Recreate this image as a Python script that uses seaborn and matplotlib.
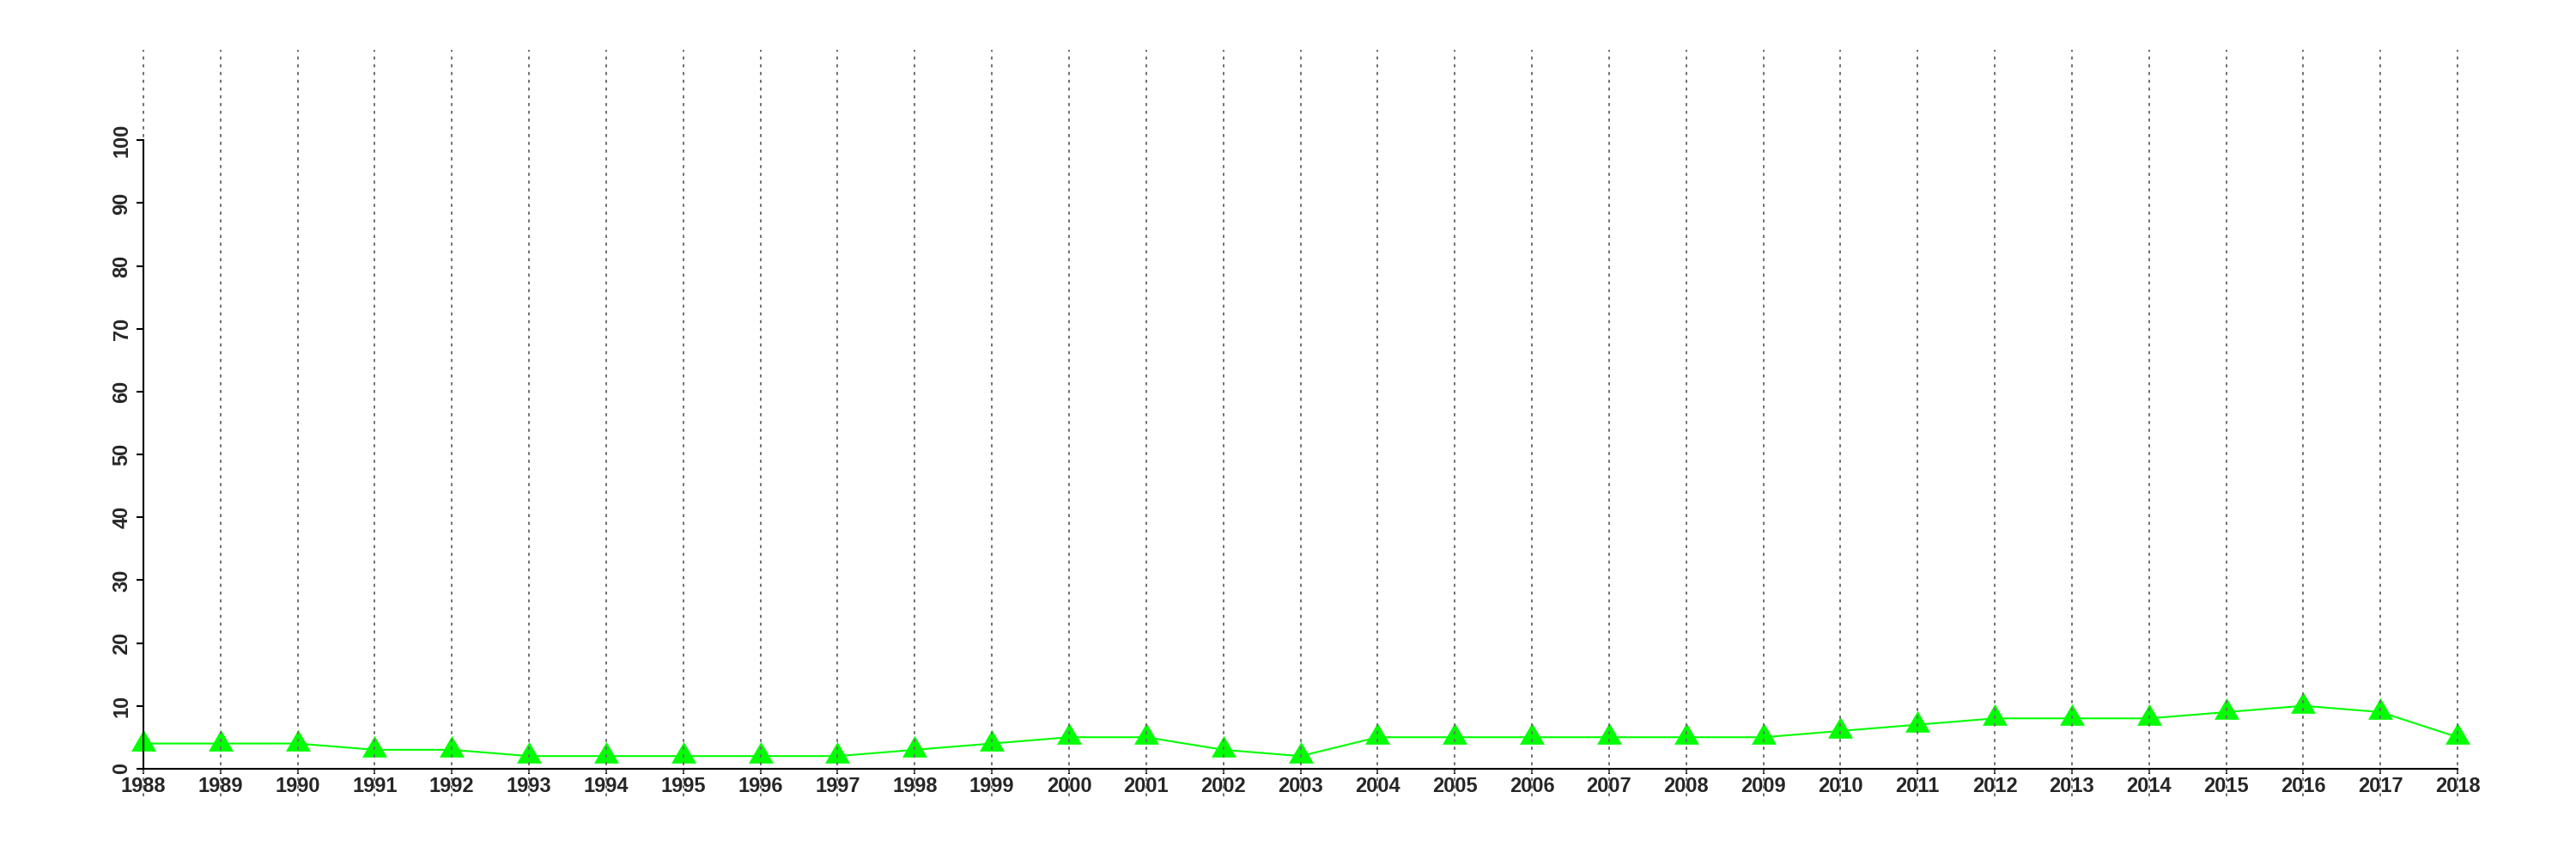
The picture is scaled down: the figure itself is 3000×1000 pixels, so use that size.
import matplotlib
matplotlib.use("Agg")
import matplotlib.pyplot as plt
import seaborn as sns
import pandas as pd

# values
years = list(range(1988, 2019))
counts = [4, 4, 4, 3, 3, 2, 2, 2, 2, 2, 3, 4, 5, 5, 3, 2,
          5, 5, 5, 5, 5, 5, 6, 7, 8, 8, 8, 9, 10, 9, 5]
y_ticks = list(range(0, 101, 10))

sns.set_style("white")
plt.rcParams['font.family'] = ['Liberation Sans', 'DejaVu Sans']
plt.rcParams['lines.scale_dashes'] = False

df = pd.DataFrame({"year": years, "count": counts})

fig = plt.figure(figsize=(30, 10), dpi=100)
ax = fig.add_axes([59 / 3000, 0.073, (2970 - 59) / 3000, 0.869])

# equilateral triangle like R's pch=17, centred on its centroid
tri = [(0, 0.577), (-0.5, -0.289), (0.5, -0.289)]
sns.lineplot(data=df, x="year", y="count", ax=ax, color="#00ff00",
             linewidth=1.5, marker=tri, markersize=24,
             markeredgewidth=0, markerfacecolor="#00ff00")

for yr in years:
    ax.axvline(yr, color="#707070", linewidth=1.4,
               linestyle=(0, (2.6, 3.9)), zorder=5)

ax.set_xlim(1986.8, 2019.2)
ax.set_ylim(-4.4, 114.4)

for side in ["top", "right"]:
    ax.spines[side].set_visible(False)
ax.spines["left"].set_position(("data", 1988))
ax.spines["bottom"].set_position(("data", 0))
ax.spines["left"].set_bounds(0, 100)
ax.spines["bottom"].set_bounds(1988, 2018)
for side in ["left", "bottom"]:
    ax.spines[side].set_linewidth(1.5)
    ax.spines[side].set_color("black")
    ax.spines[side].set_zorder(6)

ax.set_xticks(years)
ax.set_xticklabels([str(y) for y in years], fontsize=17, fontweight="bold")
ax.set_yticks(y_ticks)
ax.set_yticklabels([str(v) for v in y_ticks], fontsize=17,
                   fontweight="bold", rotation=90, va="center")
ax.tick_params(axis="x", direction="out", length=4.5, width=1.5,
               color="black", pad=2, bottom=True)
ax.tick_params(axis="y", direction="out", length=5.5, width=1.5,
               color="black", pad=4, left=True)
ax.set_xlabel("")
ax.set_ylabel("")
ax.grid(False)

fig.savefig("out.png", dpi=100, facecolor="white")
